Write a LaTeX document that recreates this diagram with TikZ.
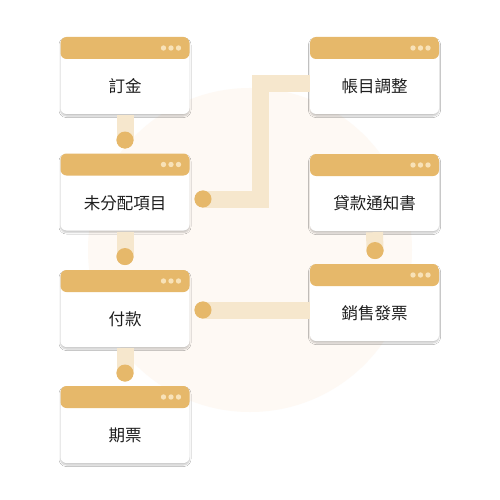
\documentclass[tikz,border=0pt]{standalone}
\usepackage{fontspec}
\newfontfamily\cjk{Noto Sans CJK TC}
\usetikzlibrary{shadows.blur}
\definecolor{hdr}{HTML}{E6B86A}
\definecolor{hdrdot}{HTML}{F8E2B8}
\definecolor{barc}{HTML}{F6E7CD}
\definecolor{bgc}{HTML}{FEF9F4}
\definecolor{txt}{HTML}{1E1E1E}
\tikzset{
  box/.style={rounded corners=6pt, minimum width=129pt, minimum height=77pt,
    inner sep=0pt, fill=white,
    blur shadow={shadow xshift=0pt, shadow yshift=-2pt, shadow blur radius=1.5pt, shadow blur steps=6, shadow opacity=22},
    path picture={\fill[hdr] ([yshift=-22pt]path picture bounding box.north west) rectangle (path picture bounding box.north east);
      \foreach \dx in {26,18.5,11}{\fill[hdrdot] ([xshift=-\dx pt,yshift=-11pt]path picture bounding box.north east) circle (2.7pt);}}},
  lbl/.style={font=\cjk\fontsize{16.5}{18}\selectfont, text=txt, inner sep=0pt},
  dotc/.style={circle, fill=hdr, minimum size=17pt, inner sep=0pt},
  bar/.style={draw=barc, line width=17pt, line cap=butt, line join=miter}
}
\begin{document}
\begin{tikzpicture}[x=1pt,y=-1pt]
\fill[white] (0,0) rectangle (500,500);
\useasboundingbox (0,0) rectangle (500,500);
\fill[bgc] (250,250) circle (162);
% boxes
\node[box] (L1) at (125,75.5) {};
\node[box] (L2) at (125,192) {};
\node[box] (L3) at (125,308.5) {};
\node[box] (L4) at (125,424.5) {};
\node[box] (R1) at (374.5,75.5) {};
\node[box] (R2) at (374.5,192.5) {};
\node[box] (R3) at (374.5,302.5) {};
% dots
\node[dotc] (d1) at (125,140) {};
\node[dotc] (d2) at (125,256.5) {};
\node[dotc] (d3) at (125,373) {};
\node[dotc] (d5) at (203,199) {};
\node[dotc] (d6) at (203,310) {};
\node[dotc] (d7) at (375,250.5) {};
\coordinate (k1) at (260.5,83.5);
% labels
\node[lbl] (t1) at ([yshift=-11pt]L1.center) {訂金};
\node[lbl] (t2) at ([yshift=-11pt]L2.center) {未分配項目};
\node[lbl] (t3) at ([yshift=-11pt]L3.center) {付款};
\node[lbl] (t4) at ([yshift=-11pt]L4.center) {期票};
\node[lbl] (t5) at ([yshift=-11pt]R1.center) {帳目調整};
\node[lbl] (t6) at ([yshift=-11pt]R2.center) {貸款通知書};
\node[lbl] (t7) at ([yshift=-11pt]R3.center) {銷售發票};
% connectors
\draw[bar] ([yshift=-1pt]L1.south) -- (d1.center);
\draw[bar] ([yshift=-1pt]L2.south) -- (d2.center);
\draw[bar] ([yshift=-1pt]L3.south) -- (d3.center);
\draw[bar] ([yshift=-1pt]R2.south) -- (d7.center);
\draw[bar] (d5.center) -| (k1) -- (k1 -| R1.west);
\draw[bar] (d6.center) -- (d6 -| R3.west);
\foreach \d in {d1,d2,d3,d5,d6,d7}{\fill[hdr] (\d) circle (8.5);}
\end{tikzpicture}
\end{document}
